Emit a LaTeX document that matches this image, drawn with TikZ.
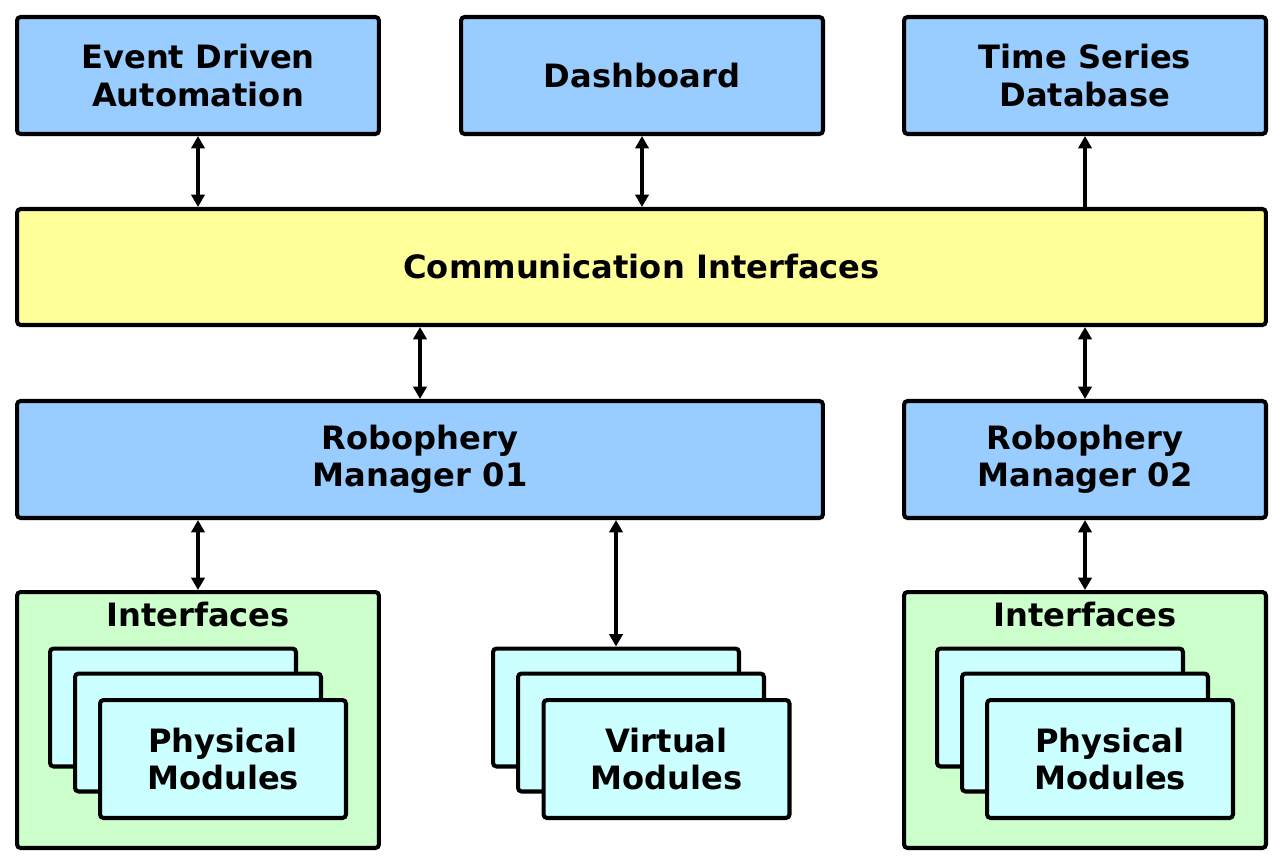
\documentclass[tikz,border=0pt]{standalone}
\usepackage{fontspec}
\setmainfont{DejaVu Sans}
\usetikzlibrary{arrows.meta}
\definecolor{blockblue}{HTML}{99CCFF}
\definecolor{blockyellow}{HTML}{FFFF99}
\definecolor{blockgreen}{HTML}{CCFFCC}
\definecolor{blockcyan}{HTML}{CCFFFF}
\tikzset{
  block/.style={draw=black, line width=2.3pt, rounded corners=2pt, align=center,
    font=\fontsize{18.3}{21.2}\selectfont\bfseries, inner sep=0pt},
  topbox/.style={block, fill=blockblue, minimum width=7.24cm, minimum height=2.34cm},
  modbox/.style={block, fill=blockcyan, minimum width=4.92cm, minimum height=2.36cm},
  groupbox/.style={block, fill=blockgreen, minimum width=7.24cm, minimum height=5.12cm},
  link/.style={line width=1.8pt, {Triangle[length=7pt,width=7.5pt]}-{Triangle[length=7pt,width=7.5pt]}},
  uplink/.style={line width=1.8pt, -{Triangle[length=7pt,width=7.5pt]}}
}
\begin{document}
\begin{tikzpicture}[x=0.02cm, y=-0.02cm]
            \useasboundingbox (0, 0) rectangle (1283, 865);
            % top row
            \node [topbox] (eda) at (198, 75.5) {Event Driven\\Automation};
            \node [topbox] (dash) at (642, 75.5) {Dashboard};
            \node [topbox] (tsd) at (1085, 75.5) {Time Series\\Database};
            % bus
            \node [block, fill=blockyellow, minimum width=24.98cm, minimum height=2.32cm]
                (comm) at (641.5, 267) {Communication Interfaces};
            % managers
            \node [topbox, minimum width=16.12cm] (rm1) at (420, 459.5) {Robophery\\Manager 01};
            \node [topbox] (rm2) at (1085, 459.5) {Robophery\\Manager 02};
            % interface groups
            \node [groupbox] (ifl) at (198, 720) {};
            \node [groupbox] (ifr) at (1085, 720) {};
            \node [block, draw=none] (iflt) at (198, 615) {Interfaces};
            \node [block, draw=none] (ifrt) at (1085, 615) {Interfaces};
            % module stacks
            \node [modbox] (pla) at (173, 707.5) {};
            \node [modbox] (plb) at (198, 732.5) {};
            \node [modbox] (plc) at (223, 759) {Physical\\Modules};
            \node [modbox] (vma) at (616, 707.5) {};
            \node [modbox] (vmb) at (641, 732.5) {};
            \node [modbox] (vmc) at (666.5, 759) {Virtual\\Modules};
            \node [modbox] (pra) at (1060, 707.5) {};
            \node [modbox] (prb) at (1085, 732.5) {};
            \node [modbox] (prc) at (1110, 759) {Physical\\Modules};
            % connectors
            \draw [link] (eda.south) -- (eda.south |- comm.north);
            \draw [link] (dash.south) -- (dash.south |- comm.north);
            \draw [uplink] (tsd.south |- comm.north) -- (tsd.south);
            \draw [link] (rm1.north |- comm.south) -- (rm1.north);
            \draw [link] (rm2.north |- comm.south) -- (rm2.north);
            \draw [link] (ifl.north |- rm1.south) -- (ifl.north);
            \draw [link] (vma.north |- rm1.south) -- (vma.north);
            \draw [link] (rm2.south) -- (ifr.north);
        \end{tikzpicture}
\end{document}
